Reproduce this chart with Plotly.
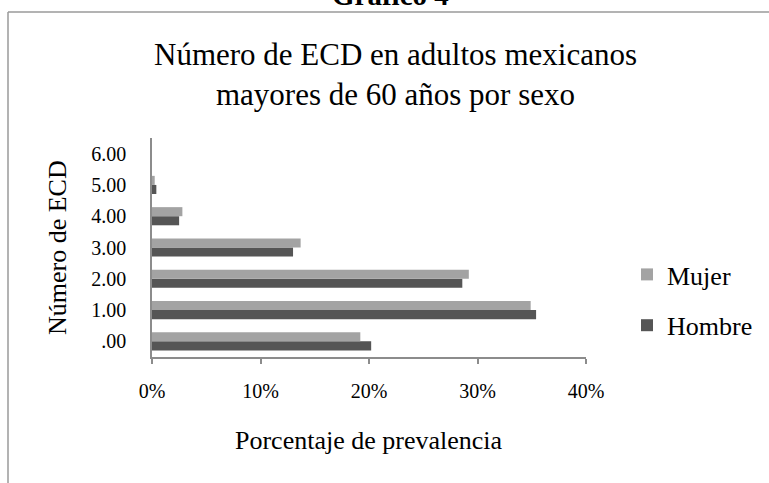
import plotly.graph_objects as go

# Prevalence (%) by number of chronic degenerative diseases (ECD) and sex
categorias = [".00", "1.00", "2.00", "3.00", "4.00", "5.00", "6.00"]
mujer = [19.2, 34.9, 29.2, 13.7, 2.8, 0.25, 0.0]
hombre = [20.2, 35.4, 28.6, 13.0, 2.5, 0.4, 0.0]
ticks_x = [0, 0.1, 0.2, 0.3, 0.4]

W, H = 769, 483
L, R, T, B = 152, 183, 138, 126
PW, PH = W - L - R, H - T - B
SERIF = "Liberation Serif, Times New Roman, serif"


def px(x):
    return (x - L) / PW


def py(y):
    return (H - B - y) / PH


fig = go.Figure()
fig.add_trace(go.Bar(
    y=categorias, x=[v / 100 for v in hombre], orientation="h", name="Hombre",
    marker=dict(color="#555555", line=dict(width=0)), legendgroup="h",
    legendrank=2,
))
fig.add_trace(go.Bar(
    y=categorias, x=[v / 100 for v in mujer], orientation="h", name="Mujer",
    marker=dict(color="#a3a3a3", line=dict(width=0)), legendgroup="m",
    legendrank=1,
))

fig.update_layout(
    width=W, height=H,
    margin=dict(l=L, r=R, t=T, b=B, autoexpand=False),
    paper_bgcolor="white", plot_bgcolor="white",
    barmode="group", bargap=0.42, bargroupgap=0,
    font=dict(family=SERIF, color="black", size=20),
    showlegend=True,
    legend=dict(
        x=px(627), y=py(251), xanchor="left", yanchor="top",
        traceorder="grouped", tracegroupgap=14,
        font=dict(family=SERIF, size=26, color="black"),
        itemwidth=30, bgcolor="rgba(0,0,0,0)",
    ),
    xaxis=dict(
        range=[0, 0.4], tickvals=ticks_x, tickformat=".0%",
        showgrid=False, zeroline=False, showline=True, linecolor="#8c8c8c",
        linewidth=1.5, ticks="outside", ticklen=5, tickcolor="#8c8c8c",
        tickwidth=1.5, ticklabelstandoff=10,
        tickfont=dict(family=SERIF, size=20, color="black"),
    ),
    yaxis=dict(
        type="category", categoryorder="array", categoryarray=categorias,
        showgrid=False, zeroline=False, showline=True, linecolor="#8c8c8c",
        linewidth=1.5, ticks="", ticklabelstandoff=20,
        tickfont=dict(family=SERIF, size=20, color="black"),
    ),
)

annotations = [
    dict(text="<b>Gráfico 4</b>", x=px(390), y=py(-5), xanchor="center",
         yanchor="middle", font=dict(family=SERIF, size=29)),
    dict(text="Número de ECD en adultos mexicanos<br>mayores de 60 años por sexo",
         x=px(395), y=py(74), xanchor="center", yanchor="middle",
         font=dict(family=SERIF, size=31)),
    dict(text="Número de ECD", x=px(57), y=py(248), xanchor="center",
         yanchor="middle", textangle=-90, font=dict(family=SERIF, size=26)),
    dict(text="Porcentaje de prevalencia", x=px(369), y=py(440),
         xanchor="center", yanchor="middle", font=dict(family=SERIF, size=26)),
]
for a in annotations:
    a.update(xref="paper", yref="paper", showarrow=False)
fig.update_layout(annotations=annotations)

# Outer frame: top and left edges
frame = dict(color="#9a9a9a", width=1.5)
fig.add_shape(type="line", xref="paper", yref="paper",
              x0=px(8), y0=py(12), x1=px(W + 2), y1=py(12), line=frame)
fig.add_shape(type="line", xref="paper", yref="paper",
              x0=px(8), y0=py(12), x1=px(8), y1=py(H + 2), line=frame)

fig.write_html("out.html")
